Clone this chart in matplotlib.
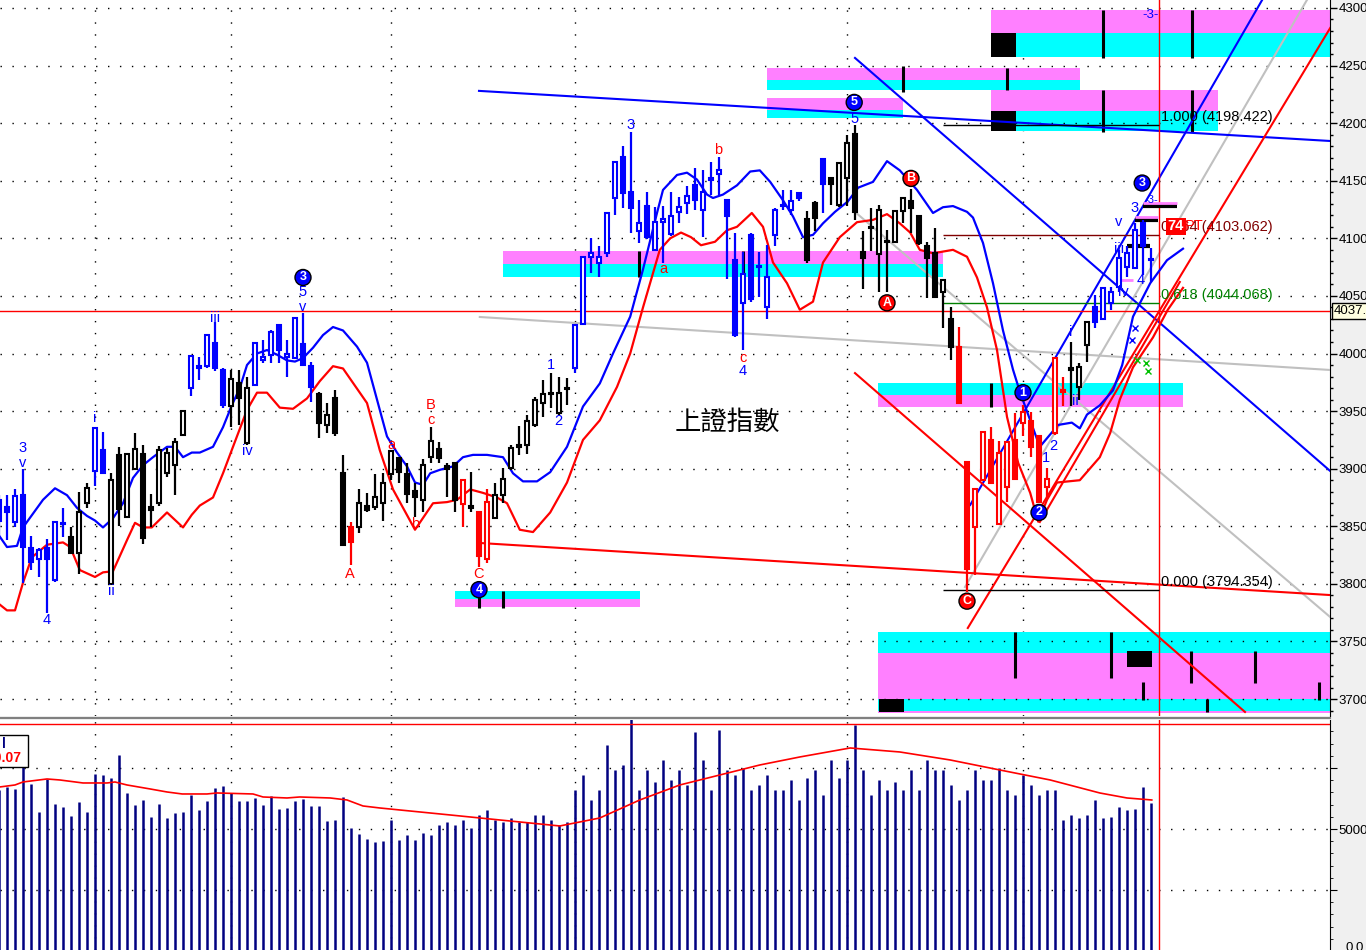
import matplotlib
matplotlib.use("Agg")
import matplotlib.pyplot as plt
from matplotlib.patches import Rectangle
from matplotlib.lines import Line2D

plt.rcParams['font.family'] = ['Liberation Sans', 'DejaVu Sans']

BLUE = '#0000ff'
RED = '#ff0000'
PINK = '#ff80ff'
CYAN = '#00ffff'
NAVY = '#000080'
col_map = {'b': BLUE, 'k': 'black', 'r': RED}

# daily candles (index 0 = leftmost, half hidden bar)
opens = [3873, 3867, 3854, 3877, 3831, 3822, 3831, 3803, 3853, 3841,
         3827, 3870, 3898, 3916, 3800, 3912, 3858, 3900, 3913, 3867,
         3870, 3896, 3903, 3929, 3970, 3987, 3989, 4009, 3986, 3954,
         3974, 3922, 3973, 3994, 3999, 4025, 3997, 3996, 4008, 3989,
         3965, 3938, 3961, 3896, 3849, 3849, 3868, 3867, 3870, 3895,
         3909, 3895, 3881, 3873, 3910, 3917, 3902, 3905, 3869, 3868,
         3862, 3822, 3857, 3877, 3901, 3919, 3921, 3938, 3957, 3965,
         3948, 3969, 3987, 4026, 4084, 4079, 4087, 4135, 4171, 4140,
         4106, 4128, 4090, 4114, 4104, 4123, 4131, 4146, 4125, 4151,
         4156, 4133, 4081, 4044, 4103, 4076, 4040, 4103, 4128, 4125,
         4139, 4117, 4131, 4169, 4152, 4129, 4152, 4191, 4088, 4110,
         4086, 4098, 4097, 4124, 4132, 4119, 4093, 4087, 4053, 4030,
         4006, 3906, 3849, 3890, 3925, 3852, 3884, 3925, 3940, 3941,
         3928, 3884, 3931, 3968, 3986, 3971, 4007, 4040, 4030, 4044,
         4058, 4075, 4074, 4113, 4082]
highs = [3877, 3877, 3882, 3900, 3842, 3831, 3839, 3855, 3866, 3849,
         3880, 3888, 3936, 3932, 3896, 3919, 3914, 3931, 3921, 3878,
         3920, 3918, 3927, 3951, 3999, 3997, 4017, 4027, 3987, 3986,
         3986, 3980, 4010, 4012, 4020, 4026, 4012, 4032, 4035, 3993,
         3967, 3957, 3968, 3912, 3854, 3882, 3879, 3895, 3896, 3916,
         3910, 3905, 3888, 3908, 3936, 3923, 3905, 3906, 3891, 3897,
         3863, 3882, 3888, 3901, 3921, 3937, 3947, 3962, 3977, 3983,
         3980, 3979, 4026, 4085, 4100, 4093, 4123, 4167, 4180, 4192,
         4133, 4140, 4127, 4128, 4140, 4136, 4145, 4161, 4159, 4166,
         4171, 4134, 4105, 4088, 4105, 4088, 4094, 4126, 4142, 4142,
         4140, 4124, 4132, 4170, 4153, 4165, 4190, 4198, 4106, 4126,
         4129, 4107, 4125, 4136, 4143, 4119, 4097, 4109, 4065, 4040,
         4023, 3907, 3883, 3933, 3936, 3924, 3924, 3948, 3955, 3949,
         3929, 3901, 3997, 3980, 4010, 3992, 4027, 4051, 4058, 4058,
         4090, 4093, 4113, 4116, 4092]
lows = [3838, 3838, 3849, 3801, 3812, 3806, 3775, 3802, 3841, 3826,
        3809, 3866, 3885, 3895, 3799, 3850, 3857, 3899, 3835, 3849,
        3868, 3893, 3877, 3928, 3963, 3977, 3987, 3985, 3953, 3936,
        3938, 3921, 3972, 3992, 3992, 3992, 3980, 3995, 3989, 3958,
        3927, 3931, 3928, 3833, 3816, 3844, 3862, 3864, 3855, 3890,
        3888, 3870, 3858, 3862, 3905, 3905, 3875, 3862, 3849, 3862,
        3815, 3818, 3856, 3870, 3899, 3912, 3913, 3936, 3945, 3953,
        3947, 3955, 3983, 4025, 4070, 4066, 4084, 4120, 4126, 4105,
        4096, 4099, 4089, 4079, 4102, 4113, 4121, 4125, 4101, 4138,
        4138, 4065, 4014, 4003, 4045, 4049, 4030, 4093, 4125, 4120,
        4132, 4079, 4106, 4122, 4129, 4127, 4128, 4116, 4056, 4089,
        4053, 4053, 4096, 4113, 4105, 4094, 4048, 4048, 4022, 3994,
        3956, 3793, 3808, 3889, 3888, 3851, 3871, 3890, 3928, 3910,
        3870, 3875, 3929, 3954, 3954, 3960, 3993, 4022, 4029, 4038,
        4053, 4066, 4073, 4068, 4062]
closes = [3855, 3862, 3876, 3832, 3819, 3829, 3822, 3854, 3852, 3827,
          3862, 3883, 3935, 3896, 3890, 3865, 3913, 3917, 3840, 3864,
          3916, 3914, 3923, 3950, 3998, 3989, 4016, 3987, 3955, 3978,
          3961, 3970, 4009, 3997, 4019, 4003, 4000, 4031, 3990, 3971,
          3940, 3947, 3931, 3834, 3836, 3870, 3864, 3875, 3888, 3915,
          3897, 3878, 3875, 3903, 3924, 3909, 3900, 3873, 3890, 3866,
          3824, 3871, 3877, 3891, 3918, 3921, 3941, 3960, 3965, 3966,
          3966, 3970, 4025, 4084, 4087, 4084, 4122, 4166, 4139, 4126,
          4113, 4101, 4114, 4117, 4119, 4127, 4137, 4133, 4140, 4152,
          4159, 4119, 4016, 4069, 4047, 4075, 4066, 4125, 4129, 4132,
          4135, 4081, 4118, 4147, 4147, 4165, 4183, 4123, 4083, 4109,
          4125, 4097, 4124, 4135, 4126, 4096, 4083, 4049, 4064, 4006,
          3957, 3813, 3882, 3932, 3888, 3914, 3923, 3891, 3949, 3919,
          3871, 3891, 3996, 3967, 3987, 3988, 4027, 4027, 4057, 4053,
          4083, 4087, 4107, 4093, 4081]
# wave colouring of the bars: b = blue, k = black, r = red
colours = ("b" * 9 + "k" * 3 + "b" * 2 + "k" * 10 + "b" * 5 + "k" * 3 + "b" * 8 +
           "k" * 4 + "r" + "k" * 13 + "r" + "k" + "r" * 2 + "k" * 10 + "b" * 29 +
           "k" * 2 + "b" + "k" * 16 + "r" * 14 + "k" * 3 + "b" * 8)

volume = [6601, 6724, 6642, 7626, 6847, 5699, 7052, 6027, 5904, 5535,
          6109, 5699, 7257, 7216, 7093, 8036, 6478, 5986, 6191, 5494,
          6027, 5453, 5658, 5699, 6396, 5781, 6150, 6683, 6765, 6478,
          6150, 6150, 6273, 5986, 6355, 5822, 5863, 6150, 6232, 5945,
          5945, 5330, 5371, 6314, 5043, 4797, 4592, 4469, 4510, 5371,
          4551, 4756, 4551, 4838, 4756, 5166, 5289, 5166, 5371, 5043,
          5576, 5781, 5371, 5289, 5453, 5289, 5289, 5576, 5576, 5371,
          5166, 5289, 6601, 7216, 6191, 6601, 8446, 7421, 7626, 9553,
          6601, 7421, 6929, 7831, 7011, 7421, 6806, 8979, 7831, 6601,
          9061, 7421, 7216, 7503, 6601, 6806, 7216, 6601, 6601, 7011,
          6191, 7093, 7421, 6396, 7831, 7093, 7831, 9266, 7421, 6396,
          7011, 6601, 6929, 6601, 7421, 6601, 7831, 7421, 7421, 6806,
          6191, 6601, 7421, 7011, 7011, 7503, 6601, 6396, 7216, 6806,
          6396, 6601, 6601, 5371, 5576, 5453, 5576, 6191, 5453, 5494,
          5904, 5781, 5822, 6724, 6068]

# upper (blue) and lower (red) envelope, displaced a few bars forward
upper_x = [0.1, 1, 2.25, 3, 4.25, 5.5, 7, 8.5, 9.75, 11, 12, 13, 14.25, 15.5, 16.75, 18,
           19.25, 21, 22, 23, 24.1, 25.1, 26.75, 28, 29.1, 30.1, 31, 32.25, 33.5, 34.75,
           36, 37, 38, 39.25, 40.5, 41.75, 43, 44.75, 46, 47.25, 48.5, 49.75, 51, 52, 53,
           53.9, 55.1, 56.75, 58, 59.25, 61, 63, 64.25, 65.5, 67.25, 68.9, 71, 73, 75.1,
           76.75, 78.9, 80.5, 82.25, 83, 84.75, 86, 87.25, 88.5, 89.25, 90.5, 92.25, 93.9,
           95.1, 96.4, 98, 99.25, 100.5, 101.75, 103, 104.5, 106.1, 107.4, 109.25, 111,
           112.6, 114.75, 116.75, 118, 119.25, 121, 121.75, 123, 124.25, 125.5, 126.75,
           127.6, 128.9, 130.1, 132.4, 134.1, 135.1, 136, 137.6, 139.25, 140.4, 141.75,
           143.9, 146, 148]
upper_v = [3841, 3832, 3833, 3849, 3861, 3873, 3883, 3877, 3866, 3859, 3855, 3849, 3857,
           3870, 3892, 3903, 3910, 3919, 3919, 3910, 3914, 3914, 3919, 3936, 3955, 3970,
           3990, 4000, 4003, 3999, 3994, 3993, 3996, 4005, 4016, 4023, 4020, 4006, 3992,
           3960, 3928, 3914, 3902, 3888, 3886, 3896, 3899, 3902, 3910, 3912, 3912, 3910,
           3896, 3889, 3889, 3897, 3919, 3954, 3974, 4000, 4032, 4073, 4122, 4142, 4155,
           4157, 4151, 4138, 4135, 4138, 4146, 4158, 4159, 4149, 4133, 4119, 4101, 4103,
           4113, 4123, 4132, 4144, 4149, 4167, 4159, 4142, 4122, 4127, 4128, 4123, 4118,
           4096, 4061, 4020, 3986, 3967, 3942, 3919, 3938, 3940, 3935, 3947, 3955, 3968,
           3990, 4032, 4061, 4081, 4091]
lower_x = [0.1, 1, 2, 3, 4.1, 6, 8, 8.9, 10.1, 12, 13, 14.25, 16, 17, 18, 19.1, 21, 23,
           24.1, 25.1, 26.75, 28, 29.25, 31, 32.25, 33.5, 35.1, 36.75, 38.5, 40.1, 41.75,
           43, 46, 47.6, 49.25, 52, 54.25, 56, 57.25, 58.9, 60.5, 62.25, 63.5, 65.1, 66.75,
           68.9, 71, 73, 75.1, 77.25, 78.9, 80.5, 82.6, 83.9, 85.25, 86.5, 87.75, 89.5, 91,
           92.25, 94.1, 95.5, 96.75, 98.5, 100.1, 101.75, 103, 105.1, 107.25, 109.25, 111,
           112.6, 113.9, 115.1, 116.75, 119.25, 121, 122.25, 123.5, 124.75, 126, 127.4,
           128.9, 129.9, 131, 132.25, 135.1, 137.6, 138.9, 140.1, 141.75, 144.25, 146.1, 148]
lower_v = [3782, 3777, 3777, 3801, 3823, 3834, 3836, 3832, 3812, 3806, 3810, 3811, 3838,
           3853, 3849, 3849, 3862, 3849, 3860, 3868, 3875, 3896, 3919, 3951, 3966, 3966,
           3953, 3952, 3961, 3976, 3989, 3987, 3957, 3916, 3882, 3847, 3870, 3871, 3873,
           3882, 3879, 3875, 3870, 3847, 3845, 3862, 3888, 3925, 3942, 3971, 4000, 4040,
           4090, 4100, 4105, 4101, 4094, 4097, 4107, 4110, 4122, 4110, 4079, 4061, 4038,
           4045, 4079, 4101, 4114, 4116, 4121, 4113, 4105, 4090, 4087, 4090, 4084, 4066,
           4040, 4003, 3945, 3905, 3879, 3854, 3873, 3888, 3890, 3910, 3931, 3960, 3988,
           4014, 4038, 4057]

# volume moving average
vma_x = [0.1, 2, 3, 6, 7.6, 10.5, 13.5, 14.5, 16, 18.9, 21, 22.9, 26, 27.25, 31.75, 33, 36,
         37.6, 41.4, 43.5, 45.5, 47.6, 50.1, 56.4, 62.6, 70.1, 75.1, 80.1, 85.1, 90.1, 95.1,
         100.1, 106.4, 112.6, 118.9, 125.1, 131.4, 137.6, 141, 144.1]
vma_v = [6724, 6806, 6929, 7052, 7011, 6888, 6888, 6929, 6806, 6642, 6519, 6437, 6437,
         6478, 6437, 6314, 6273, 6314, 6273, 6191, 5945, 5863, 5781, 5576, 5371, 5125,
         5453, 6191, 6806, 7216, 7626, 7954, 8323, 8159, 7831, 7421, 7011, 6478, 6273, 6191]

month_starts = [12, 29, 49, 72, 106, 128]
last_price = 4037
cursor_bar = 145

# trend lines: (x0, p0, x1, p1, colour)
trend_lines = [
    (60.1, 4031.7, 166.4, 3985.7, '#c0c0c0'),
    (120.75, 3797.3, 163.5, 4307.0, '#c0c0c0'),
    (107.0, 4122.9, 166.4, 3771.2, '#c0c0c0'),
    (60.0, 4228.0, 166.4, 4184.5, BLUE),
    (107.0, 4256.6, 166.4, 3898.0, BLUE),
    (121.4, 3868.5, 157.9, 4307.0, BLUE),
    (60.1, 3835.5, 166.4, 3790.3, RED),
    (107.0, 3983.0, 155.75, 3688.8, RED),
    (121.1, 3761.7, 166.4, 4282.6, RED),
    (130.1, 3853.7, 147.6, 4062.1, RED),
]

# support / resistance zones: (x0, x1, [(low, high, colour), ...])
zones = [
    (63, 118, [(4077.8, 4089.1, PINK), (4066.5, 4077.8, CYAN)]),
    (57, 80.1, [(3786.9, 3793.8, CYAN), (3779.9, 3786.9, PINK)]),
    (109.9, 148, [(3964.0, 3974.4, CYAN), (3953.6, 3964.0, PINK)]),
    (96, 135.1, [(4237.5, 4248.0, PINK), (4228.9, 4237.5, CYAN)]),
    (96, 113, [(4211.5, 4221.9, PINK), (4204.5, 4211.5, CYAN)]),
    (124, 152.4, [(4210.6, 4228.9, PINK), (4193.3, 4210.6, CYAN)]),
    (124, 166.4, [(4278.3, 4298.3, PINK), (4257.5, 4278.3, CYAN)]),
    (109.9, 166.4, [(3740.0, 3758.2, CYAN), (3700.1, 3740.0, PINK),
                    (3689.6, 3700.1, CYAN), (3687.9, 3689.6, PINK)]),
]
zone_blocks = [(124, 127.1, 4193.3, 4210.6), (124, 127.1, 4257.5, 4278.3),
               (141, 144.1, 3727.8, 3741.7), (110, 113.1, 3688.8, 3700.1)]
zone_ticks = [(80, 4066.5, 4089.1), (93, 4069.9, 4089.1), (60, 3779, 3794), (63, 3779, 3794),
              (124, 3953.6, 3974.4), (113, 4227.1, 4249.7), (126, 4228.9, 4248.0),
              (138, 4192.4, 4228.9), (149.1, 4192.4, 4228.9), (138, 4256.6, 4298.3),
              (149.1, 4256.6, 4298.3), (127, 3718.3, 3758.2), (139, 3718.3, 3758.2),
              (143, 3699.2, 3714.8), (149, 3713.9, 3741.7), (157, 3713.9, 3741.7),
              (165, 3699.2, 3714.8), (151, 3688.8, 3700.1)]

# fibonacci levels drawn from the C low to the 5 high
fib_levels = [(4198.422, '1.000', 'black'), (4103.062, '0.764', '#800000'),
              (4044.068, '0.618', '#008000'), (3794.354, '0.000', 'black')]

# wave labels: (bar, price, text, colour)
wave_labels = [
    (2.9, 3918, '3', BLUE), (2.9, 3905, 'v', BLUE), (5.9, 3769, '4', BLUE),
    (12, 3944, 'i', BLUE), (14, 3794, 'ii', BLUE), (27, 4031, 'iii', BLUE),
    (31, 3915, 'iv', BLUE), (37.9, 4053, '5', BLUE), (37.9, 4040, 'v', BLUE),
    (69, 3990, '1', BLUE), (69.9, 3941, '2', BLUE), (78.9, 4198, '3', BLUE),
    (93, 3985, '4', BLUE), (106.9, 4204, '5', BLUE), (130.9, 3909, '1', BLUE),
    (131.75, 3920, '2', BLUE), (134, 4019, 'i', BLUE), (134.6, 3959, 'ii', BLUE),
    (140.6, 4053, 'iv', BLUE), (140, 4091, 'iii', BLUE), (142.75, 4064, '4', BLUE),
    (139.9, 4114, 'v', BLUE), (141.9, 4126, '3', BLUE),
    (43.9, 3809, 'A', RED), (49, 3921, 'a', RED), (52, 3852, 'b', RED),
    (54, 3955, 'B', RED), (54, 3942, 'c', RED), (60, 3809, 'C', RED),
    (83, 4073, 'a', RED), (89.9, 4177, 'b', RED), (93, 3996, 'c', RED),
]
circled = [
    (38, 4066, '3', BLUE), (60, 3795, '4', BLUE), (106.9, 4218, '5', BLUE),
    (128, 3966, '1', BLUE), (130, 3862, '2', BLUE), (142.9, 4148, '3', BLUE),
    (111, 4044, 'A', RED), (114, 4152, 'B', RED), (121, 3785, 'C', RED),
]

fig = plt.figure(figsize=(13.66, 9.5), dpi=100, facecolor='#f0f0f0')
ax = fig.add_axes([0, 1 - 716 / 950, 1330 / 1366, 716 / 950])
axv = fig.add_axes([0, 0, 1330 / 1366, 230 / 950])

# ---- price panel ----
for x0, x1, layers in zones:
    for lo, hi, c in layers:
        ax.add_patch(Rectangle((x0, lo), x1 - x0, hi - lo, fc=c, ec='none', zorder=1))
for x0, x1, lo, hi in zone_blocks:
    ax.add_patch(Rectangle((x0, lo), x1 - x0, hi - lo, fc='black', ec='none', zorder=2))
for x, lo, hi in zone_ticks:
    ax.vlines(x, lo, hi, color='black', lw=2.2, zorder=2)

for x in month_starts:
    ax.axvline(x, color='black', lw=1, ls=(0, (1, 7.6)), zorder=0)

for x0, p0, x1, p1, c in trend_lines:
    ax.plot([x0, x1], [p0, p1], color=c, lw=1.5, zorder=3)

ax.axhline(last_price, color=RED, lw=1, zorder=3)
ax.axvline(cursor_bar, color=RED, lw=1, zorder=3)

for p, name, c in fib_levels:
    ax.hlines(p, 118, 145, color=c, lw=1, zorder=3)
    ax.text(145.3, p + 7, '%s (%.3f)' % (name, p), color=c, fontsize=10.5,
            va='center', ha='left', zorder=8)
ax.text(146.1, 4110.5, '74', color='white', fontsize=10.5, fontweight='bold', va='center',
        bbox=dict(boxstyle='square,pad=0.1', fc=RED, ec='none'), zorder=9)
ax.text(148.2, 4110.5, 'PT', color=RED, fontsize=10.5, va='center', zorder=9)

# small marker bars near the last bars
ax.hlines([4128, 4116, 4093], [143, 142, 141], [147.25, 144.9, 143.9],
          color='black', lw=3, zorder=4)
ax.hlines([4131, 4118.5, 4064], [143, 142, 139.75], [147.25, 144.9, 141.75],
          color=PINK, lw=2, zorder=4)

ax.plot(upper_x, upper_v, color=BLUE, lw=1.6, zorder=4)
ax.plot(lower_x, lower_v, color=RED, lw=1.6, zorder=4)

for i in range(len(opens)):
    c = col_map[colours[i]]
    ax.vlines(i, lows[i], highs[i], color=c, lw=1.6, zorder=5)
    lo, hi = min(opens[i], closes[i]), max(opens[i], closes[i])
    face = 'white' if closes[i] > opens[i] else c
    ax.add_patch(Rectangle((i - 0.24, lo), 0.48, max(hi - lo, 1.0), fc=face, ec=c,
                           lw=1.5, zorder=6))

ax.plot([142.2, 143.4, 143.6], [3994, 3992, 3985], 'x', color='#00c000', ms=5, zorder=7)
ax.plot([142.0, 141.6], [4022, 4012], 'x', color=BLUE, ms=5, zorder=7)

for x, p, t, c in wave_labels:
    ax.text(x, p, t, color=c, fontsize=10.5, ha='center', va='center', zorder=8)
ax.text(144.1, 4133, '-3-', color=BLUE, fontsize=8, ha='center', va='center', zorder=8)
ax.text(143.9, 4294, '-3-', color=BLUE, fontsize=9.5, ha='center', va='center', zorder=8)
for x, p, t, c in circled:
    ax.text(x, p, t, color='white', fontsize=9, fontweight='bold', ha='center',
            va='center', zorder=9,
            bbox=dict(boxstyle='circle,pad=0.16', fc=c, ec='black', lw=1))

ax.text(91.1, 3940, '上證指數', fontsize=19, ha='center', va='center',
        family=['Noto Sans CJK TC', 'DejaVu Sans'], zorder=8)

ax.set_xlim(0.125, 166.375)
ax.set_ylim(3685.3, 4306.9)
ax.set_yticks(range(3700, 4301, 50))
ax.set_yticks(range(3690, 4306, 10), minor=True)
ax.yaxis.tick_right()
ax.tick_params(axis='y', which='major', length=5, labelsize=9.5, pad=1, width=1)
ax.tick_params(axis='y', which='minor', length=2, width=1)
ax.set_xticks([])
ax.grid(axis='y', which='major', color='black', lw=1, ls=(0, (1, 7.6)))
for s in ['top', 'left', 'bottom']:
    ax.spines[s].set_visible(False)
ax.text(1.003, last_price, '4037.', transform=ax.get_yaxis_transform(), fontsize=9.5,
        va='center', ha='left', clip_on=False, zorder=10,
        bbox=dict(boxstyle='square,pad=0.15', fc='#ffffe0', ec='black', lw=1))

# ---- volume panel ----
axv.vlines(range(len(volume)), 0, volume, color=NAVY, lw=1.8)
axv.plot(vma_x, vma_v, color=RED, lw=1.2)
axv.axhline(9307, color=RED, lw=1)
axv.axvline(cursor_bar, color=RED, lw=1)
for x in month_starts:
    axv.axvline(x, color='black', lw=1, ls=(0, (1, 7.6)), zorder=0)
axv.set_xlim(0.125, 166.375)
axv.set_ylim(40, 9470)
axv.set_yticks([2500, 5000, 7500])
axv.set_yticklabels(['', '5000', ''])
axv.set_yticks(range(500, 9470, 500), minor=True)
axv.yaxis.tick_right()
axv.tick_params(axis='y', which='major', length=5, labelsize=9.5, pad=1)
axv.tick_params(axis='y', which='minor', length=2)
axv.set_xticks([])
axv.grid(axis='y', which='major', color='black', lw=1, ls=(0, (1, 7.6)))
for s in ['top', 'left', 'bottom']:
    axv.spines[s].set_visible(False)

fig.add_artist(Line2D([0, 1330 / 1366], [1 - 718 / 950] * 2, color='#808080', lw=1.5))
fig.add_artist(Rectangle((-0.01, 1 - 767 / 950), 28 / 1366 + 0.01, 32 / 950,
                         transform=fig.transFigure, fc='white', ec='black', lw=1))
fig.text(2 / 1366, 1 - 744 / 950, 'l', color=NAVY, fontsize=10, fontweight='bold',
         va='center')
fig.text(22 / 1366, 1 - 758 / 950, '40.07', color=RED, fontsize=10, fontweight='bold',
         va='center', ha='right')
fig.text(1345 / 1366, 2 / 950, '0.0', fontsize=9.5, va='center')

fig.savefig('out.png', dpi=100, facecolor=fig.get_facecolor())
